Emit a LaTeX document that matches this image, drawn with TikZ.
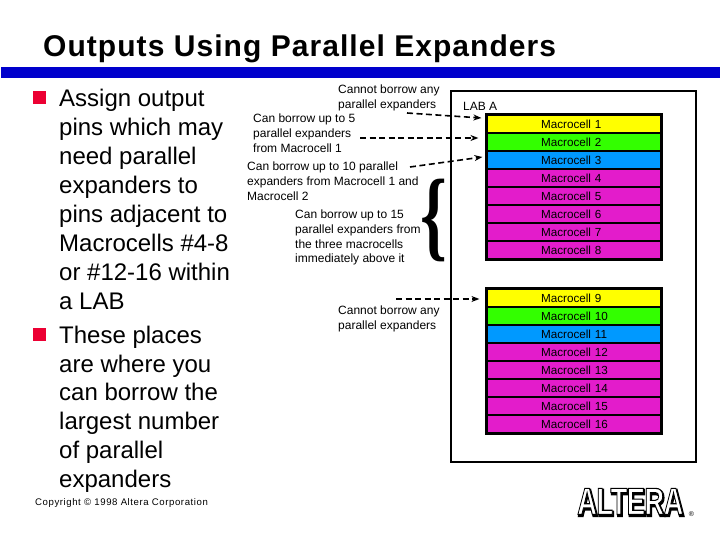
\documentclass[tikz,border=0pt]{standalone}
\usepackage{fontspec}
\usetikzlibrary{arrows.meta}
\setmainfont{Liberation Sans}
\newfontfamily\serifbrace{Liberation Serif}
\begin{document}
\begin{tikzpicture}[x=1pt,y=-1pt,
  titletext/.style={inner sep=0pt,anchor=base west,font=\addfontfeature{LetterSpace=3.5}\fontsize{30}{30}\selectfont\bfseries},
  bodytext/.style={inner sep=0pt,anchor=north west,align=left,font=\fontsize{24}{29}\selectfont},
  smalltext/.style={inner sep=0pt,anchor=north west,align=left,font=\fontsize{12}{14.6}\selectfont},
  cell/.style={draw=black,line width=1.2pt,minimum height=18pt,inner xsep=0pt,inner ysep=0pt,text width=174pt,align=left,execute at begin node=\hspace*{54pt},font=\fontsize{11.7}{12}\selectfont},
  ycell/.style={cell,fill=cellyellow},
  gcell/.style={cell,fill=cellgreen},
  bcell/.style={cell,fill=cellblue},
  mcell/.style={cell,fill=cellmagenta},
  groupframe/.style={draw=black,line width=2.2pt},
  borrowarrow/.style={draw=black,line width=1.6pt,dash pattern=on 6pt off 3.5pt,-{Stealth[length=8pt,width=6pt]}},
  bulletsq/.style={fill=bulletred,draw=none,minimum size=13pt,inner sep=0pt}]
\definecolor{cellyellow}{HTML}{FFFF00}
\definecolor{cellgreen}{HTML}{33FF00}
\definecolor{cellblue}{HTML}{0099FF}
\definecolor{cellmagenta}{HTML}{E31CCB}
\definecolor{barblue}{HTML}{0000CC}
\definecolor{bulletred}{HTML}{EC0033}
\useasboundingbox (0,0) rectangle (720,540);
\fill[white] (0,0) rectangle (720,540);
\fill[barblue] (1,67) rectangle (720,78);
\node[titletext] (title) at (43,57) {Outputs Using Parallel Expanders};
\node[bulletsq] (b1) at (39.5,97.5) {};
\node[bulletsq] (b2) at (39.5,334.5) {};
\node[bodytext] (item1) at (59,89) {Assign output\\pins which may\\need parallel\\expanders to\\pins adjacent to\\Macrocells \#4-8\\or \#12-16 within\\a LAB};
\node[bodytext,font=\fontsize{24}{28.7}\selectfont] (item2) at (59,326) {These places\\are where you\\can borrow the\\largest number\\of parallel\\expanders};
\node[inner sep=0pt,anchor=base west,font=\addfontfeature{LetterSpace=6}\fontsize{9.6}{10}\selectfont] (copy) at (35,505) {Copyright © 1998 Altera Corporation};
% LAB frame
\draw[draw=black,line width=2pt] (451,91) rectangle (696,462);
\node[smalltext] (lab) at (463,102) {LAB A};
% macrocells
\node[ycell] (c1) at (574,124) {Macrocell 1};
\node[gcell] (c2) at (574,142) {Macrocell 2};
\node[bcell] (c3) at (574,160) {Macrocell 3};
\node[mcell] (c4) at (574,178) {Macrocell 4};
\node[mcell] (c5) at (574,196) {Macrocell 5};
\node[mcell] (c6) at (574,214) {Macrocell 6};
\node[mcell] (c7) at (574,232) {Macrocell 7};
\node[mcell] (c8) at (574,250) {Macrocell 8};
\draw[groupframe] (c1.north west) rectangle (c8.south east);
\node[ycell] (c9) at (574,298) {Macrocell 9};
\node[gcell] (c10) at (574,316) {Macrocell 10};
\node[bcell] (c11) at (574,334) {Macrocell 11};
\node[mcell] (c12) at (574,352) {Macrocell 12};
\node[mcell] (c13) at (574,370) {Macrocell 13};
\node[mcell] (c14) at (574,388) {Macrocell 14};
\node[mcell] (c15) at (574,406) {Macrocell 15};
\node[mcell] (c16) at (574,424) {Macrocell 16};
\draw[groupframe] (c9.north west) rectangle (c16.south east);
% annotations
\node[smalltext] (t1) at (338,85) {Cannot borrow any\\parallel expanders};
\node[smalltext] (t2) at (253,114) {Can borrow up to 5\\parallel expanders\\from Macrocell 1};
\node[smalltext] (t3) at (247,162) {Can borrow up to 10 parallel\\expanders from Macrocell 1 and\\Macrocell 2};
\node[smalltext] (t4) at (295,210) {Can borrow up to 15\\parallel expanders from\\the three macrocells\\immediately above it};
\node[smalltext] (t5) at (338,306) {Cannot borrow any\\parallel expanders};
\node[inner sep=0pt,font=\serifbrace\bfseries\fontsize{100}{100}\selectfont] (brace) at (433.5,220) {\scalebox{.68}[1]{\{}};
% connectors
\coordinate (s1) at (407,113);
\coordinate (s2) at (360,138);
\coordinate (s3) at (410,167);
\coordinate (s5) at (396,299);
\draw[borrowarrow] (s1) -- ([xshift=-5pt,yshift=6pt]c1.west);
\draw[borrowarrow] (s2) -- ([xshift=-8pt,yshift=4pt]c2.west);
\draw[borrowarrow] (s3) -- ([xshift=-4pt,yshift=3pt]c3.west);
\draw[borrowarrow] (s5) -- ([xshift=-7pt,yshift=-1pt]c9.west);
% logo
\node[inner sep=0pt,anchor=base west,font=\fontsize{38}{38}\selectfont\bfseries] (logoshadow) at (578,516) {\scalebox{.72}[1]{\addfontfeature{LetterSpace=-2}\special{pdf:code 2 Tr 2.4 w}ALTERA\special{pdf:code 0 Tr 1 w}}};
\node[inner sep=0pt,anchor=base west,font=\fontsize{38}{38}\selectfont\bfseries] (logo) at (577,514.5) {\scalebox{.72}[1]{\addfontfeature{LetterSpace=-2}\textcolor{white}{\special{pdf:code 2 Tr 1.1 w 0 G}ALTERA\special{pdf:code 0 Tr 1 w}}}};
\node[inner sep=0pt,font=\fontsize{7}{7}\selectfont] (reg) at (691.5,514.5) {®};
\end{tikzpicture}
\end{document}
